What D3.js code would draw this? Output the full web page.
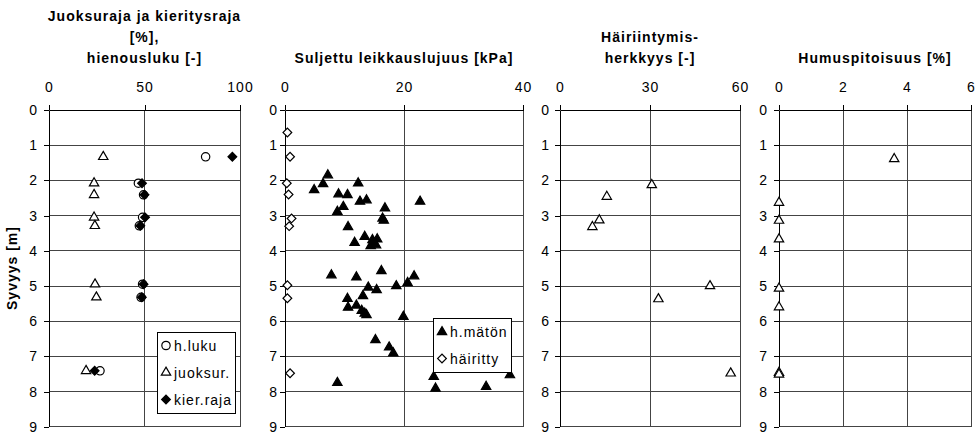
<!DOCTYPE html>
<html lang="fi">
<head>
<meta charset="UTF-8" />
<title>Kairausprofiili</title>
<script src="https://d3js.org/d3.v7.min.js"></script>
<style>
  body { margin: 0; background: #fff; font-family: "Liberation Sans", Arial, sans-serif; }
  svg text { fill: #000; letter-spacing: 1px; }
  .title { font-size: 14px; font-weight: bold; }
  .tick text { font-size: 14px; font-family: "Liberation Sans", Arial, sans-serif; }
  .legend text { font-size: 14px; }
  .grid line, .frame line { shape-rendering: crispEdges; }
</style>
</head>
<body>
<svg id="chart" width="977" height="435"></svg>
<script>
// ---- data ----
const depthTicks = [0, 1, 2, 3, 4, 5, 6, 7, 8, 9];

// panel 1: Juoksuraja / kieritysraja / hienousluku
const p1Depth  = [1.33, 2.08, 2.41, 3.05, 3.29, 4.95, 5.32, 7.41];
const hLuku    = [82, 46.8, 49.5, 49, 47.3, 49, 48.2, 26.7];
const juoksur  = [28.4, 23.6, 23.6, 23.6, 24, 24.1, 24.8, 19.4];
const kierRaja = [96, 48.7, 50, 50.3, 47.8, 49.5, 48.6, 23.9];

// panel 2: Suljettu leikkauslujuus
const hMatonX = [7.2, 4.9, 6.4, 12.3, 9.0, 10.5, 12.6, 13.7, 9.8, 8.8, 16.8, 16.4, 16.6, 22.7,
                 10.6, 13.4, 11.7, 14.7, 15.5, 14.4, 15.3, 14.9, 7.8, 12.0, 16.2, 21.7, 20.6,
                 18.7, 14.0, 15.4, 13.1, 10.5, 10.6, 12.0, 12.9, 13.4, 13.7, 19.9, 15.2, 17.5,
                 18.2, 8.8, 25.0, 25.3, 33.8, 37.8];
const hMatonDepth = [1.85, 2.27, 2.10, 2.08, 2.39, 2.41, 2.60, 2.56, 2.75, 2.89, 2.79, 3.08, 3.14, 2.60,
                     3.32, 3.60, 3.77, 3.69, 3.67, 3.86, 3.84, 3.78, 4.69, 4.75, 4.57, 4.72, 4.91,
                     5.00, 5.04, 5.11, 5.28, 5.36, 5.61, 5.55, 5.70, 5.78, 5.82, 5.87, 6.53, 6.74,
                     6.91, 7.75, 7.58, 7.91, 7.86, 7.53];
const hairittyX     = [0.4, 0.85, 0.3, 0.6, 1.1, 0.7, 0.4, 0.4, 0.85];
const hairittyDepth = [0.64, 1.33, 2.08, 2.4, 3.08, 3.3, 4.98, 5.35, 7.48];

// panel 3: Häiriintymisherkkyys
const herkkyys      = [30.6, 15.6, 13.1, 10.8, 50, 32.8, 56.9];
const herkkyysDepth = [2.13, 2.46, 3.13, 3.32, 5.0, 5.37, 7.48];

// panel 4: Humuspitoisuus
const humus      = [3.6, 0, 0, 0, 0, 0, 0, 0];
const humusDepth = [1.39, 2.63, 3.14, 3.67, 5.07, 5.6, 7.46, 7.51];

const titles = [
  ["Juoksuraja ja kieritysraja", "[%],", "hienousluku [-]"],
  ["Suljettu leikkauslujuus [kPa]"],
  ["Häiriintymis-", "herkkyys [-]"],
  ["Humuspitoisuus [%]"]
];
const xMax   = [100, 40, 60, 6];
const xTicks = [[0, 50, 100], [0, 20, 40], [0, 30, 60], [0, 2, 4, 6]];
const legend1 = ["h.luku", "juoksur.", "kier.raja"];
const legend2 = ["h.mätön", "häiritty"];

// ---- layout ----
const panels = [
  { left: 49,  right: 240, pad: 6 },
  { left: 285, right: 523, pad: 2 },
  { left: 560, right: 740, pad: 5 },
  { left: 779, right: 971, pad: 6 }
];

const svg = d3.select("#chart");
const y = d3.scaleLinear().domain([0, 9]).range([110, 426.8]);

const triangle = d3.symbol().type(d3.symbolTriangle).size(38)();
const circle   = d3.symbol().type(d3.symbolCircle).size(55)();
const square   = d3.symbol().type(d3.symbolSquare).size(38)();

function zip(xs, ys) { return xs.map((v, i) => [v, ys[i]]); }

function drawMarks(g, x, pts, path, filled, rotate) {
  g.append("g").selectAll("path")
    .data(pts)
    .join("path")
    .attr("d", path)
    .attr("transform", d => `translate(${x(d[0])},${y(d[1])})` + (rotate ? " rotate(45)" : ""))
    .attr("fill", filled ? "#000" : "#fff")
    .attr("stroke", "#000")
    .attr("stroke-width", 1.2);
}

const xs = panels.map((p, i) => {
  const x = d3.scaleLinear().domain([0, xMax[i]]).range([p.left, p.right]);
  const g = svg.append("g");

  // gridlines
  const grid = g.append("g").attr("class", "grid");
  grid.selectAll("line.h").data(depthTicks).join("line").attr("class", "h")
    .attr("x1", p.left).attr("x2", p.right)
    .attr("y1", d => y(d)).attr("y2", d => y(d))
    .attr("stroke", "#444").attr("stroke-width", 1);
  grid.selectAll("line.v").data(xTicks[i].slice(1)).join("line").attr("class", "v")
    .attr("x1", d => x(d)).attr("x2", d => x(d))
    .attr("y1", y(0)).attr("y2", y(9))
    .attr("stroke", "#444").attr("stroke-width", 1);

  // axes
  const ax = g.append("g").attr("class", "frame")
    .attr("transform", `translate(0,${y(0)})`)
    .call(d3.axisTop(x).tickValues(xTicks[i]).tickFormat(d3.format("d"))
      .tickSize(5).tickPadding(13).tickSizeOuter(0));
  const ay = g.append("g").attr("class", "frame")
    .attr("transform", `translate(${p.left},0)`)
    .call(d3.axisLeft(y).tickValues(depthTicks).tickFormat(d3.format("d"))
      .tickSize(5).tickPadding(p.pad).tickSizeOuter(0));
  [ax, ay].forEach(a => {
    a.select(".domain").attr("stroke", "#000").attr("shape-rendering", "crispEdges");
    a.selectAll(".tick line").attr("stroke", "#000").attr("shape-rendering", "crispEdges");
    a.selectAll(".tick text").attr("fill", "#000");
  });

  // title
  const lines = titles[i];
  g.append("text").attr("class", "title")
    .attr("text-anchor", "middle")
    .selectAll("tspan").data(lines).join("tspan")
    .attr("x", (p.left + p.right) / 2)
    .attr("y", (d, k) => 63 - (lines.length - 1 - k) * 21)
    .text(d => d);

  return { x, g };
});

// y axis title
svg.append("text").attr("class", "title")
  .attr("transform", "translate(17,268) rotate(-90)")
  .attr("text-anchor", "middle")
  .text("Syvyys [m]");

// panel 1 marks
drawMarks(xs[0].g, xs[0].x, zip(hLuku, p1Depth), circle, false);
drawMarks(xs[0].g, xs[0].x, zip(juoksur, p1Depth), triangle, false);
drawMarks(xs[0].g, xs[0].x, zip(kierRaja, p1Depth), square, true, true);

// panel 2 marks
drawMarks(xs[1].g, xs[1].x, zip(hMatonX, hMatonDepth), triangle, true);
drawMarks(xs[1].g, xs[1].x, zip(hairittyX, hairittyDepth), square, false, true);

// panel 3 & 4 marks
drawMarks(xs[2].g, xs[2].x, zip(herkkyys, herkkyysDepth), triangle, false);
drawMarks(xs[3].g, xs[3].x, zip(humus, humusDepth), triangle, false);

// legends
function drawLegend(box, labels, symbols) {
  const lg = svg.append("g").attr("class", "legend");
  lg.append("rect")
    .attr("x", box.x + 0.5).attr("y", box.y + 0.5)
    .attr("width", box.w).attr("height", box.h)
    .attr("fill", "#fff").attr("stroke", "#000").attr("stroke-width", 1);
  labels.forEach((t, k) => {
    const cy = box.y + box.first + k * box.step;
    const s = symbols[k];
    lg.append("path").attr("d", s.path)
      .attr("transform", `translate(${box.x + 9},${cy})` + (s.rotate ? " rotate(45)" : ""))
      .attr("fill", s.filled ? "#000" : "#fff")
      .attr("stroke", "#000").attr("stroke-width", 1.2);
    lg.append("text").attr("x", box.x + 17).attr("y", cy + 5).text(t);
  });
}

drawLegend({ x: 157, y: 332, w: 78, h: 81, first: 13.5, step: 27 }, legend1, [
  { path: circle, filled: false },
  { path: triangle, filled: false },
  { path: square, filled: true, rotate: true }
]);
drawLegend({ x: 433, y: 318, w: 78, h: 54, first: 14, step: 26.5 }, legend2, [
  { path: triangle, filled: true },
  { path: square, filled: false, rotate: true }
]);
</script>
</body>
</html>
